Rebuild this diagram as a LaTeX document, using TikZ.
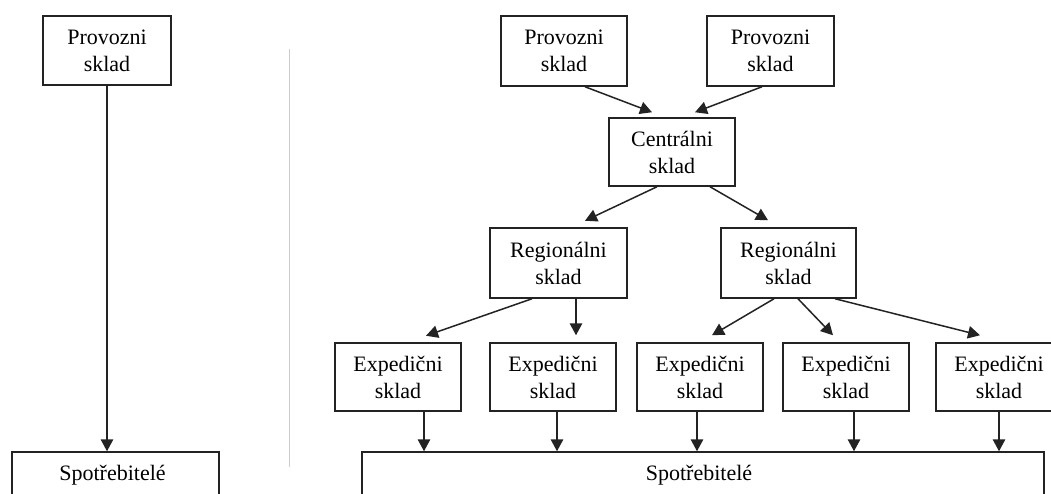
\documentclass[tikz,border=0pt]{standalone}
\usepackage{fontspec}
\setmainfont{Liberation Serif}
\usetikzlibrary{calc,arrows.meta}
\definecolor{linecol}{RGB}{35,35,35}
\definecolor{divcol}{RGB}{205,205,205}
\tikzset{
  boxnode/.style={draw=linecol, line width=1.5pt, fill=white, align=center, inner sep=0pt,
    font=\fontsize{22}{27}\selectfont},
  arr/.style={draw=linecol, line width=1.5pt, -{Triangle[length=12pt,width=12.5pt]}},
}
\begin{document}
\begin{tikzpicture}[x=1pt,y=-1pt]
\useasboundingbox (0,0) rectangle (1051,493);
\clip (0,0) rectangle (1051,493);
\fill[white] (0,0) rectangle (1051,493);
% divider
\draw[divcol, line width=1pt] (289,49) -- (289,467);
% left side
\node[boxnode, minimum width=128pt, minimum height=69pt] (lp) at (107,50.5) {Provozni\\sklad};
\node[boxnode, minimum width=207pt, minimum height=46pt] (ls) at (115.5,475) {\hspace*{-6pt}Spotřebitelé};
% right side
\node[boxnode, minimum width=126pt, minimum height=70pt] (p1) at (564,51) {Provozni\\sklad};
\node[boxnode, minimum width=127pt, minimum height=70pt] (p2) at (770.5,51) {Provozni\\sklad};
\node[boxnode, minimum width=126pt, minimum height=68pt] (c) at (672,152) {Centrálni\\sklad};
\node[boxnode, minimum width=137pt, minimum height=70pt] (r1) at (558.5,263) {Regionálni\\sklad};
\node[boxnode, minimum width=135pt, minimum height=70pt] (r2) at (788.5,263) {Regionálni\\sklad};
\node[boxnode, minimum width=126pt, minimum height=68pt] (e1) at (398,377) {Expedični\\sklad};
\node[boxnode, minimum width=126pt, minimum height=68pt] (e2) at (553,377) {Expedični\\sklad};
\node[boxnode, minimum width=126pt, minimum height=68pt] (e3) at (700,377) {Expedični\\sklad};
\node[boxnode, minimum width=126pt, minimum height=68pt] (e4) at (846,377) {Expedični\\sklad};
\node[boxnode, minimum width=126pt, minimum height=68pt] (e5) at (999,377) {Expedični\\sklad};
\node[boxnode, minimum width=682pt, minimum height=46pt] (rs) at (703,475) {\hspace*{-8pt}Spotřebitelé};
% connectors
\draw[arr] (lp.south) -- (ls.north -| lp.south);
\draw[arr] ($(p1.south)+(21,0)$) -- ($(c.north)+(-20,-5)$);
\draw[arr] ($(p2.south)+(-8.5,0)$) -- ($(c.north)+(23,-5)$);
\draw[arr] ($(c.south)+(-15,0)$) -- ($(r1.north)+(26.5,-6.5)$);
\draw[arr] ($(c.south)+(38,0)$) -- ($(r2.north)+(-20.5,-7)$);
\draw[arr] ($(r1.south)+(-26.5,0)$) -- ($(e1.north)+(28,-6.5)$);
\draw[arr] ($(r1.south)+(17.5,0)$) -- ($(e2.north)+(23,-7)$);
\draw[arr] ($(r2.south)+(-14.5,0)$) -- ($(e3.north)+(12,-7)$);
\draw[arr] ($(r2.south)+(9.5,0)$) -- ($(e4.north)+(-13,-7)$);
\draw[arr] ($(r2.south)+(46.5,0)$) -- ($(e5.north)+(-19,-7)$);
\draw[arr] ($(e1.south)+(26,0)$) coordinate (t1) -- (t1 |- rs.north);
\draw[arr] ($(e2.south)+(4,0)$) coordinate (t2) -- (t2 |- rs.north);
\draw[arr] ($(e3.south)+(-3,0)$) coordinate (t3) -- (t3 |- rs.north);
\draw[arr] ($(e4.south)+(8,0)$) coordinate (t4) -- (t4 |- rs.north);
\draw[arr] ($(e5.south)+(0,0)$) coordinate (t5) -- (t5 |- rs.north);
\end{tikzpicture}
\end{document}
